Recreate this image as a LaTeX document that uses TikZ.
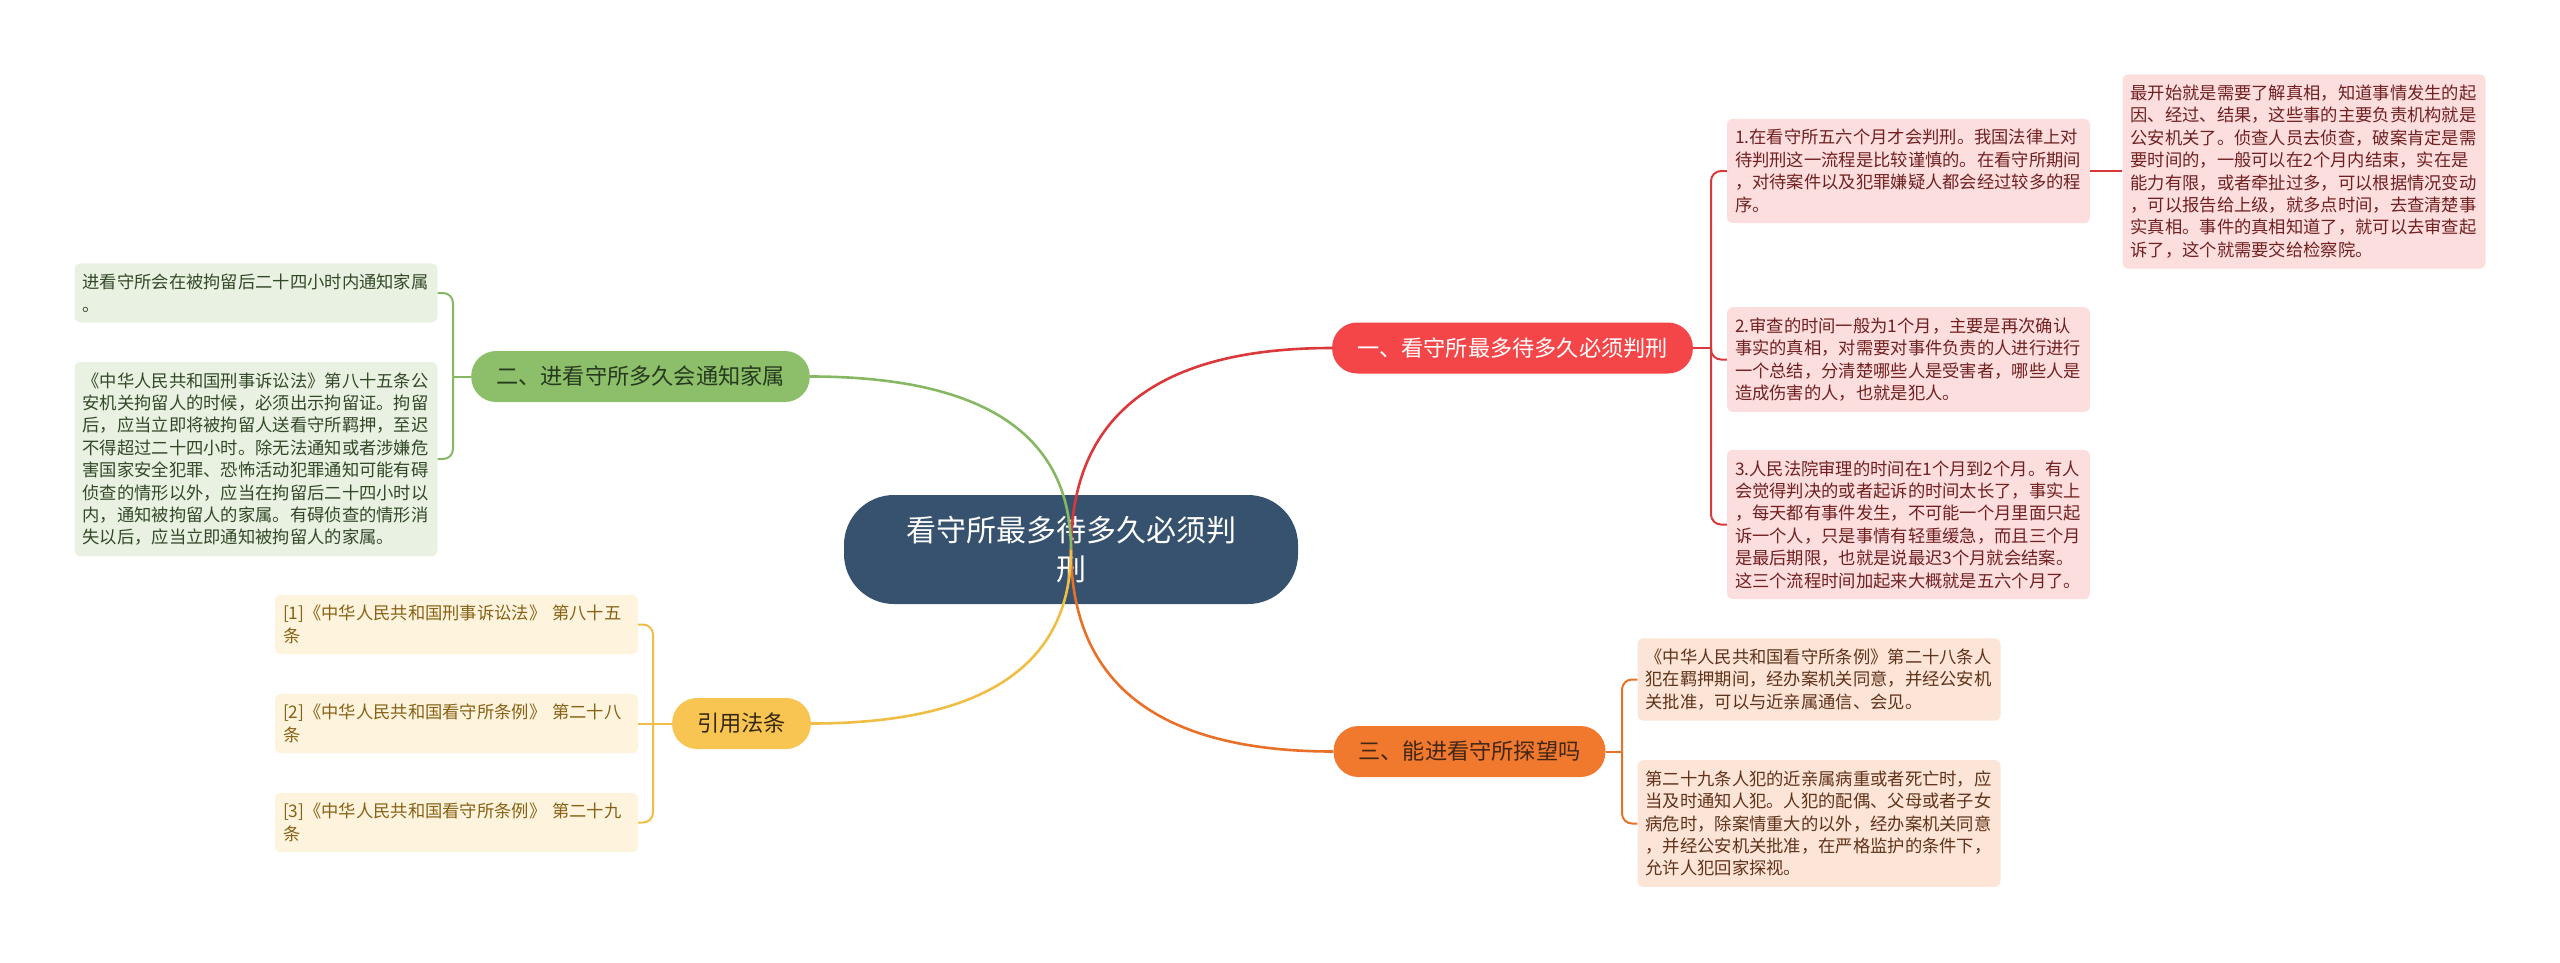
\documentclass[tikz,border=0pt]{standalone}
\usepackage{fontspec}
\newfontfamily\cjkfont{Noto Sans CJK SC}
\usepackage{tikz}
\definecolor{rootblue}{RGB}{55,82,110}
\definecolor{redbr}{RGB}{244,70,72}
\definecolor{redline}{RGB}{218,56,58}
\definecolor{redleaf}{RGB}{253,222,222}
\definecolor{redtext}{RGB}{112,32,32}
\definecolor{orangebr}{RGB}{240,121,45}
\definecolor{orangeline}{RGB}{232,112,40}
\definecolor{orangeleaf}{RGB}{252,229,215}
\definecolor{orangetext}{RGB}{96,50,26}
\definecolor{greenbr}{RGB}{141,190,106}
\definecolor{greenline}{RGB}{134,184,100}
\definecolor{greenleaf}{RGB}{233,242,226}
\definecolor{greentext}{RGB}{50,72,40}
\definecolor{yellowbr}{RGB}{248,197,82}
\definecolor{yellowline}{RGB}{240,190,68}
\definecolor{yellowleaf}{RGB}{254,243,220}
\definecolor{yellowtext}{RGB}{135,98,22}

\begin{document}
\begin{tikzpicture}[x=1pt,y=-1pt,
		rootnode/.style={fill=rootblue,text=white,rounded corners=50pt,minimum width=454pt,minimum height=109pt,text width=340pt,align=center,font=\cjkfont\fontsize{30}{39}\selectfont},
		branch/.style={rounded corners=25pt,minimum height=51pt,inner xsep=25pt,inner ysep=0pt,font=\cjkfont\fontsize{22.2}{26}\selectfont},
		leaf/.style={rounded corners=6pt,text width=347pt,inner xsep=8pt,inner ysep=10.5pt,align=left,font=\cjkfont\fontsize{17.3}{22.4}\selectfont},
		stem/.style={line width=2.6pt},
		twig/.style={line width=2pt,rounded corners=10pt}]
			\useasboundingbox (0,0) rectangle (2560,962);
			
			\node[rootnode] (root) at (1071,549.5) {看守所最多待多久必须判\\刑};
			
			\node[branch,fill=redbr,text=white] (one) at (1512.5,348) {一、看守所最多待多久必须判刑};
			\node[branch,fill=greenbr,text={rgb,255:red,38;green,58;blue,30}] (two) at (640.5,376.5) {二、进看守所多久会通知家属};
			\node[branch,fill=orangebr,text={rgb,255:red,66;green,38;blue,22}] (three) at (1469.5,751.5) {三、能进看守所探望吗};
			\node[branch,fill=yellowbr,text={rgb,255:red,52;green,40;blue,18}] (cite) at (741.5,723.5) {引用法条};
			
			\draw[stem,redline] (root.center) .. controls +(0,-134) and +(-174,0) .. (one.west);
			\draw[stem,greenline] (root.center) .. controls +(0,-115) and +(174,0) .. (two.east);
			\draw[stem,orangeline] (root.center) .. controls +(0,135) and +(-174,0) .. (three.west);
			\draw[stem,yellowline] (root.center) .. controls +(0,116) and +(173,0) .. (cite.east);
			
			% 一
			\node[leaf,fill=redleaf,text=redtext] (oneA) at (1908.5,171) {1.在看守所五六个月才会判刑。我国法律上对\\
				待判刑这一流程是比较谨慎的。在看守所期间\\
				，对待案件以及犯罪嫌疑人都会经过较多的程\\
				序。};
			\node[leaf,fill=redleaf,text=redtext] (oneAx) at (2304,171.5) {最开始就是需要了解真相，知道事情发生的起\\
				因、经过、结果，这些事的主要负责机构就是\\
				公安机关了。侦查人员去侦查，破案肯定是需\\
				要时间的，一般可以在2个月内结束，实在是\\
				能力有限，或者牵扯过多，可以根据情况变动\\
				，可以报告给上级，就多点时间，去查清楚事\\
				实真相。事件的真相知道了，就可以去审查起\\
				诉了，这个就需要交给检察院。};
			\node[leaf,fill=redleaf,text=redtext] (oneB) at (1908.5,359.5) {2.审查的时间一般为1个月，主要是再次确认\\
				事实的真相，对需要对事件负责的人进行进行\\
				一个总结，分清楚哪些人是受害者，哪些人是\\
				造成伤害的人，也就是犯人。};
			\node[leaf,fill=redleaf,text=redtext] (oneC) at (1908.5,524.5) {3.人民法院审理的时间在1个月到2个月。有人\\
				会觉得判决的或者起诉的时间太长了，事实上\\
				，每天都有事件发生，不可能一个月里面只起\\
				诉一个人，只是事情有轻重缓急，而且三个月\\
				是最后期限，也就是说最迟3个月就会结案。\\
				这三个流程时间加起来大概就是五六个月了。};
			\coordinate (oneJ) at (1711,348);
			\draw[twig,redline] (one.east) -- (oneJ);
			\draw[twig,redline] (oneJ) |- (oneA.west);
			\draw[twig,redline] (oneJ) |- (oneB.west);
			\draw[twig,redline] (oneJ) |- (oneC.west);
			\draw[twig,redline] (oneA.east) -- (oneA.east -| oneAx.west);
			
			% 二
			\node[leaf,fill=greenleaf,text=greentext] (twoA) at (256,293) {进看守所会在被拘留后二十四小时内通知家属\\
				。};
			\node[leaf,fill=greenleaf,text=greentext] (twoB) at (256,459) {《中华人民共和国刑事诉讼法》第八十五条公\\
				安机关拘留人的时候，必须出示拘留证。拘留\\
				后，应当立即将被拘留人送看守所羁押，至迟\\
				不得超过二十四小时。除无法通知或者涉嫌危\\
				害国家安全犯罪、恐怖活动犯罪通知可能有碍\\
				侦查的情形以外，应当在拘留后二十四小时以\\
				内，通知被拘留人的家属。有碍侦查的情形消\\
				失以后，应当立即通知被拘留人的家属。};
			\coordinate (twoJ) at (453,376.5);
			\draw[twig,greenline] (two.west) -- (twoJ);
			\draw[twig,greenline] (twoJ) |- (twoA.east);
			\draw[twig,greenline] (twoJ) |- (twoB.east);
			
			% 三
			\node[leaf,fill=orangeleaf,text=orangetext] (threeA) at (1819,679.5) {《中华人民共和国看守所条例》第二十八条人\\
				犯在羁押期间，经办案机关同意，并经公安机\\
				关批准，可以与近亲属通信、会见。};
			\node[leaf,fill=orangeleaf,text=orangetext] (threeB) at (1819,823.5) {第二十九条人犯的近亲属病重或者死亡时，应\\
				当及时通知人犯。人犯的配偶、父母或者子女\\
				病危时，除案情重大的以外，经办案机关同意\\
				，并经公安机关批准，在严格监护的条件下，\\
				允许人犯回家探视。};
			\coordinate (threeJ) at (1622,751.5);
			\draw[twig,orangeline] (three.east) -- (threeJ);
			\draw[twig,orangeline] (threeJ) |- (threeA.west);
			\draw[twig,orangeline] (threeJ) |- (threeB.west);
			
			% 引用法条
			\node[leaf,fill=yellowleaf,text=yellowtext] (citeA) at (456.5,624.5) {[1]《中华人民共和国刑事诉讼法》 第八十五\\
				条};
			\node[leaf,fill=yellowleaf,text=yellowtext] (citeB) at (456.5,723.5) {[2]《中华人民共和国看守所条例》 第二十八\\
				条};
			\node[leaf,fill=yellowleaf,text=yellowtext] (citeC) at (456.5,822.5) {[3]《中华人民共和国看守所条例》 第二十九\\
				条};
			\coordinate (citeJ) at (653,723.5);
			\draw[twig,yellowline] (cite.west) -- (citeJ);
			\draw[twig,yellowline] (citeJ) |- (citeA.east);
			\draw[twig,yellowline] (citeJ) -- (citeB.east);
			\draw[twig,yellowline] (citeJ) |- (citeC.east);
		\end{tikzpicture}
\end{document}
